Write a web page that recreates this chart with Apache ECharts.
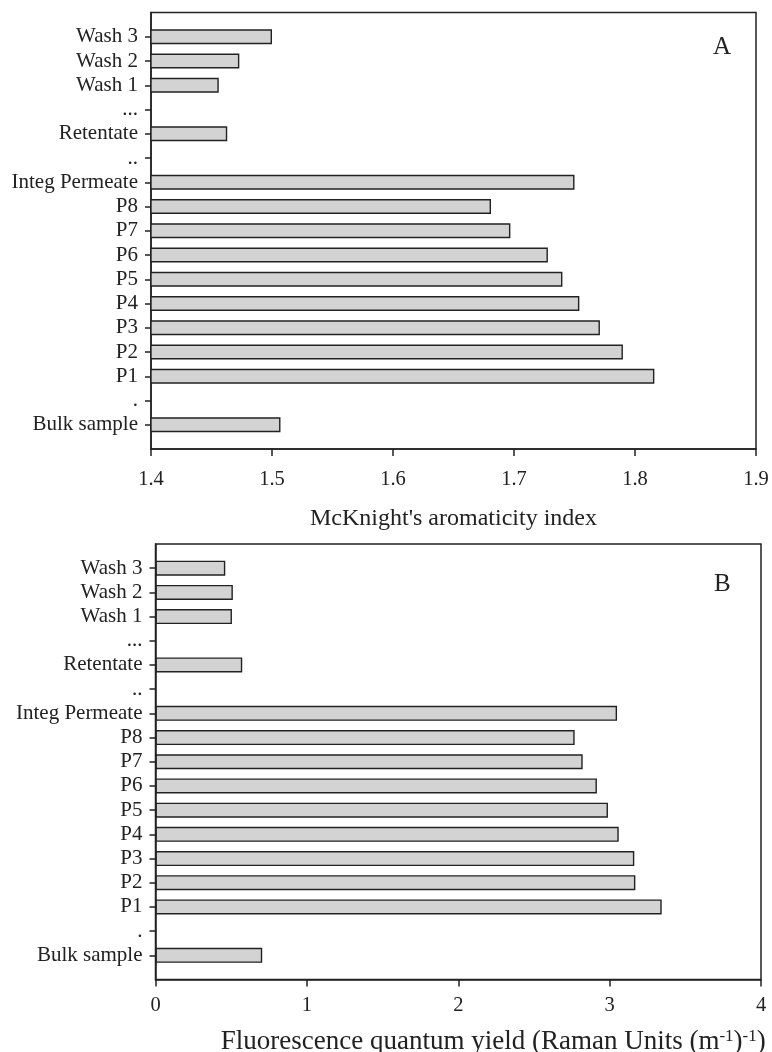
<!DOCTYPE html>
<html>
<head>
<meta charset="utf-8">
<script src="https://cdn.jsdelivr.net/npm/echarts@6/dist/echarts.min.js"></script>
<style>html,body{margin:0;padding:0;background:#fff;}#c{width:772px;height:1052px;}</style>
</head>
<body>
<div id="c"></div>
<script>
// categories from bottom to top
const labels = ['Bulk sample', '.', 'P1', 'P2', 'P3', 'P4', 'P5', 'P6', 'P7', 'P8', 'Integ Permeate', '..', 'Retentate', '...', 'Wash 1', 'Wash 2', 'Wash 3'];
const aromaticity = [1.507, null, 1.816, 1.790, 1.771, 1.754, 1.740, 1.728, 1.697, 1.681, 1.750, null, 1.463, null, 1.456, 1.473, 1.500];
const quantumYield = [0.705, null, 3.344, 3.170, 3.163, 3.060, 2.989, 2.916, 2.822, 2.769, 3.049, null, 0.573, null, 0.505, 0.511, 0.461];
const ticksA = [1.4, 1.5, 1.6, 1.7, 1.8, 1.9];
const ticksB = [0, 1, 2, 3, 4];

const FONT = 'Liberation Serif';
const INK = '#222';
const yCats = [''].concat(labels, [' ']);
const pad = arr => [null].concat(arr, [null]).map(v => v == null ? '-' : v);
const nCat = yCats.length;

function yAxisFor(gi) {
  return {
    type: 'category', gridIndex: gi, data: yCats, boundaryGap: false,
    axisLine: { show: true, lineStyle: { color: INK, width: 1.5 } },
    axisTick: { show: true, length: 6, lineStyle: { color: INK, width: 1.5 },
      interval: (i) => i > 0 && i < nCat - 1 },
    axisLabel: { interval: 0, margin: 13, color: INK, fontFamily: FONT, fontSize: 21 },
    splitLine: { show: false }
  };
}
function xAxisFor(gi, ticks, name, digits, gap, lblMargin, nameSize, namePad) {
  return {
    type: 'value', gridIndex: gi, min: ticks[0], max: ticks[ticks.length - 1],
    interval: +(ticks[1] - ticks[0]).toFixed(6),
    axisLine: { show: true, lineStyle: { color: INK, width: 1.5 } },
    axisTick: { show: true, length: 7, lineStyle: { color: INK, width: 1.5 } },
    axisLabel: { margin: lblMargin, color: INK, fontFamily: FONT, fontSize: 20.5,
      formatter: v => (+v).toFixed(digits) },
    splitLine: { show: false },
    name: name, nameLocation: 'middle', nameGap: gap,
    nameTextStyle: { color: INK, fontFamily: FONT, fontSize: nameSize, padding: namePad,
      rich: {
        a: { fontFamily: FONT, fontSize: nameSize, color: INK },
        s: { fontFamily: FONT, fontSize: Math.round(nameSize * 0.62), color: INK, verticalAlign: 'top' }
      } }
  };
}
const barStyle = { color: '#d3d3d3', borderColor: INK, borderWidth: 1.4 };

const option = {
  animation: false,
  backgroundColor: '#fff',
  title: [
    { text: 'A', left: 708, top: 30, textStyle: { fontFamily: FONT, fontSize: 25, fontWeight: 'normal', color: INK } },
    { text: 'B', left: 709, top: 567, textStyle: { fontFamily: FONT, fontSize: 25, fontWeight: 'normal', color: INK } }
  ],
  grid: [
    { left: 151, right: 16, top: 12.5, height: 436.5, show: true, borderColor: INK, borderWidth: 1.5, containLabel: false, outerBoundsMode: 'none' },
    { left: 155.5, right: 11, top: 544, height: 435.5, show: true, borderColor: INK, borderWidth: 1.5, containLabel: false, outerBoundsMode: 'none' }
  ],
  xAxis: [
    xAxisFor(0, ticksA, "McKnight's aromaticity index", 1, 58, 20, 24, 0),
    xAxisFor(1, ticksB, '{a|Fluorescence quantum yield (Raman Units (m}{s|-1}{a|)}{s|-1}{a|)}', 0, 49, 16, 27, [0, 0, 0, 70])
  ],
  yAxis: [yAxisFor(0), yAxisFor(1)],
  series: [
    { type: 'bar', xAxisIndex: 0, yAxisIndex: 0, data: pad(aromaticity), barWidth: 15, itemStyle: barStyle },
    { type: 'bar', xAxisIndex: 1, yAxisIndex: 1, data: pad(quantumYield), barWidth: 15, itemStyle: barStyle }
  ]
};
const chart = echarts.init(document.getElementById('c'), null, { renderer: 'canvas' });
chart.setOption(option);
</script>
</body>
</html>
